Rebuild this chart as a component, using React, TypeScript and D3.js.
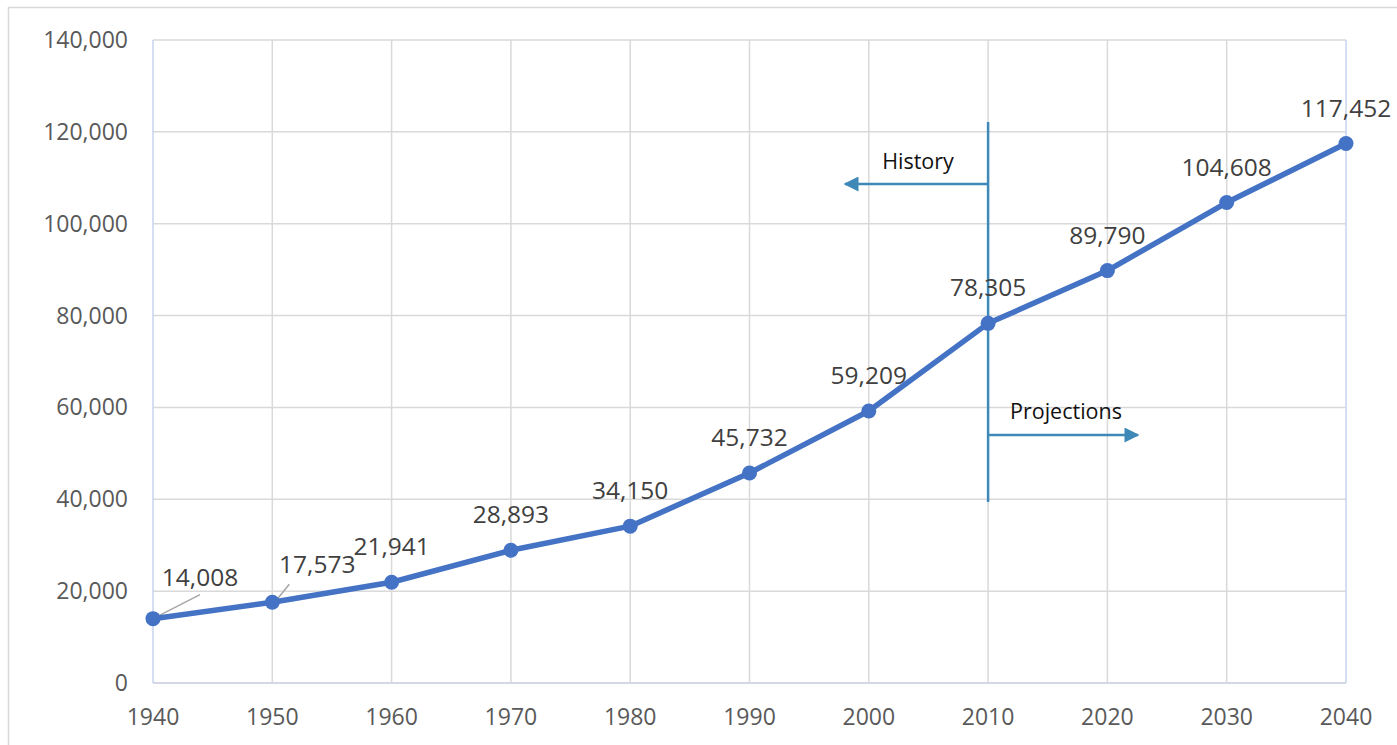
import React from "react";
import * as d3 from "d3";

const years = [1940, 1950, 1960, 1970, 1980, 1990, 2000, 2010, 2020, 2030, 2040];
const population = [14008, 17573, 21941, 28893, 34150, 45732, 59209, 78305, 89790, 104608, 117452];
const yTicks = [0, 20000, 40000, 60000, 80000, 100000, 120000, 140000];
const historyLabel = "History";
const projectionsLabel = "Projections";
const dividerYear = 2010;

const W = 1397;
const H = 745;
const M = { left: 153, right: 1346, top: 40, bottom: 683 };

export default function App() {
  const x = d3.scaleLinear().domain([1940, 2040]).range([M.left, M.right]);
  const y = d3.scaleLinear().domain([0, 140000]).range([M.bottom, M.top]);
  const line = d3
    .line<number>()
    .x((_, i) => x(years[i]))
    .y((d) => y(d));
  const fmt = d3.format(",");
  const font = "'Open Sans', 'Noto Sans', sans-serif";
  const arrowColor = "#3F89B8";
  const dx = x(dividerYear);

  // nudged labels with leader lines
  const nudge: Record<number, [number, number]> = { 0: [47, -33], 1: [45, -29] };

  return (
    <svg
      width={W}
      height={H}
      style={{ position: "absolute", left: 0, top: 0, background: "#fff" }}
    >
      <defs>
        <marker id="arr" viewBox="0 0 10 10" refX="9" refY="5" markerWidth="6.2" markerHeight="6" orient="auto-start-reverse" markerUnits="strokeWidth">
          <path d="M0,0 L10,5 L0,10 z" fill={arrowColor} />
        </marker>
      </defs>
      {/* outer border */}
      <path d={`M8.5,${H} V7.5 H${W}`} fill="none" stroke="#d9d9d9" strokeWidth={1.5} />
      {/* horizontal grid */}
      {yTicks.map((t) => (
        <line key={"h" + t} x1={M.left} x2={M.right} y1={y(t)} y2={y(t)} stroke="#d9d9d9" strokeWidth={1.5} />
      ))}
      {/* vertical grid */}
      {years.map((yr, i) => (
        <line
          key={"v" + yr}
          x1={x(yr)}
          x2={x(yr)}
          y1={M.top}
          y2={M.bottom}
          stroke={i === 0 || i === years.length - 1 ? "#c9d3ec" : "#d9d9d9"}
          strokeWidth={1.5}
        />
      ))}
      <line x1={M.left} x2={M.right} y1={M.bottom} y2={M.bottom} stroke="#cfd5e6" strokeWidth={1.5} />
      {/* y tick labels */}
      {yTicks.map((t) => (
        <text key={"yl" + t} x={128} y={y(t) + 8} textAnchor="end" fontFamily={font} fontSize={23} fill="#595959">
          {fmt(t)}
        </text>
      ))}
      {/* x tick labels */}
      {years.map((yr) => (
        <text key={"xl" + yr} x={x(yr)} y={725} textAnchor="middle" fontFamily={font} fontSize={23} fill="#595959">
          {yr}
        </text>
      ))}
      {/* divider and arrows */}
      <line x1={dx} x2={dx} y1={122} y2={502} stroke={arrowColor} strokeWidth={2.5} />
      <line x1={dx} x2={845} y1={184} y2={184} stroke={arrowColor} strokeWidth={2.5} markerEnd="url(#arr)" />
      <line x1={dx} x2={1138} y1={435} y2={435} stroke={arrowColor} strokeWidth={2.5} markerEnd="url(#arr)" />
      <text x={918} y={169} textAnchor="middle" fontFamily={font} fontSize={21.5} fill="#111">
        {historyLabel}
      </text>
      <text x={1066} y={419} textAnchor="middle" fontFamily={font} fontSize={21.5} fill="#111">
        {projectionsLabel}
      </text>
      {/* leader lines */}
      {[0, 1].map((i) => {
        const px = x(years[i]);
        const py = y(population[i]);
        const [ox, oy] = nudge[i];
        return (
          <line key={"ld" + i} x1={px + 4} y1={py - 2} x2={px + ox - (i === 0 ? 0 : 28)} y2={py + oy + 12 - (i === 0 ? 3 : 1)} stroke="#a6a6a6" strokeWidth={1.5} />
        );
      })}
      {/* series line */}
      <path d={line(population) || ""} fill="none" stroke="#4472C4" strokeWidth={5.5} strokeLinejoin="round" />
      {population.map((v, i) => (
        <circle key={"c" + i} cx={x(years[i])} cy={y(v)} r={7.5} fill="#4472C4" />
      ))}
      {/* data labels */}
      {population.map((v, i) => {
        const [ox, oy] = nudge[i] || [0, -27];
        return (
          <text key={"dl" + i} x={x(years[i]) + ox} y={y(v) + oy} textAnchor="middle" fontFamily={font} fontSize={24.5} fill="#404040">
            {fmt(v)}
          </text>
        );
      })}
    </svg>
  );
}
